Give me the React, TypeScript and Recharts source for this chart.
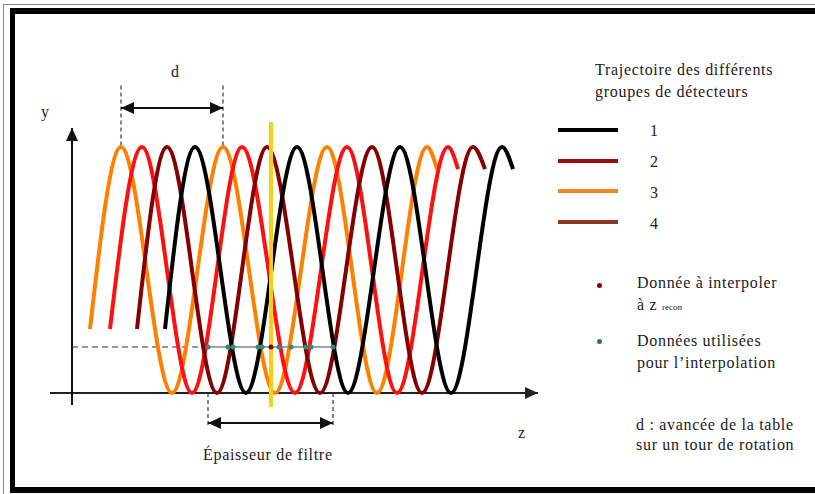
import React from 'react';
import { ComposedChart, Line, Scatter, XAxis, YAxis, ReferenceLine } from 'recharts';

// z = avance le long de l'axe, y = hauteur en % de l'amplitude (0 = creux, 100 = crête)
const trajY = [26, 100, 0, 100, 0, 100, 0, 100, 91];
const orangeZ = [18, 49, 100, 151, 203, 255, 305, 355, 365];
const redZ = [38, 70, 120, 170, 223, 275, 325, 376, 386];
const maroonZ = [65, 95, 145, 195, 248, 300, 350, 401, 413];
const blackZ = [93, 123, 174, 225, 276, 328, 379, 430, 441];

const interpLevel = 18.7;
const interpZ = [136, 156, 161, 186, 190, 207, 219, 234, 239, 261];
const reconZ = [199];
const filterStart = 136;
const filterEnd = 261;
const dStart = 49;
const dEnd = 151;

const groupLabels = ['1', '2', '3', '4'];
const groupColors = ['#000000', '#9a0c0c', '#f7861e', '#8b3a22'];

const build = (zs: number[]) => zs.map((z, i) => ({ z, y: trajY[i] }));

const serif = "'Liberation Serif', 'Times New Roman', serif";

const arrow = (both: boolean, color = '#111', w = 2, L = 13, W = 6) => (p: any) => {
  const { x1, y1, x2, y2 } = p;
  const a = Math.atan2(y2 - y1, x2 - x1);
  const head = (x: number, y: number, ang: number) => {
    const bx = x - L * Math.cos(ang);
    const by = y - L * Math.sin(ang);
    const nx = -Math.sin(ang) * W;
    const ny = Math.cos(ang) * W;
    return <polygon points={`${x},${y} ${bx + nx},${by + ny} ${bx - nx},${by - ny}`} fill={color} />;
  };
  return (
    <g>
      <line x1={x1} y1={y1} x2={x2} y2={y2} stroke={color} strokeWidth={w} />
      {head(x2, y2, a)}
      {both && head(x1, y1, a + Math.PI)}
    </g>
  );
};

const txt = (left: number, top: number, s: React.ReactNode, extra: React.CSSProperties = {}) => (
  <div style={{ position: 'absolute', left, top, fontFamily: serif, fontSize: 16, letterSpacing: 0.7, lineHeight: '18px', color: '#1a1a1a', whiteSpace: 'nowrap', ...extra }}>{s}</div>
);

const trajectory = (zs: number[], color: string) => (
  <Line data={build(zs)} dataKey="y" type="monotone" stroke={color} strokeWidth={4} dot={false} activeDot={false} isAnimationActive={false} />
);

export default function App() {
  return (
    <div style={{ position: 'relative', width: 815, height: 494, overflow: 'hidden', background: '#fff' }}>
      <style>{'body{margin:0}'}</style>
      <div style={{ position: 'absolute', left: 3, top: 4, width: 900, height: 600, border: '1px solid #888' }} />
      <div style={{ position: 'absolute', left: 10, top: 8, width: 900, height: 485, boxSizing: 'border-box', borderLeft: '5px solid #000', borderTop: '6px solid #000', borderBottom: '6px solid #000' }} />

      <div style={{ position: 'absolute', left: 0, top: 0 }}>
        <ComposedChart width={815} height={494} margin={{ top: 0, right: 0, bottom: 0, left: 0 }}>
          <XAxis type="number" dataKey="z" domain={[-72, 743]} hide allowDataOverflow />
          <YAxis type="number" dataKey="y" domain={[-41.06, 159.76]} hide allowDataOverflow />

          {/* axes */}
          <ReferenceLine segment={[{ x: -22, y: 0 }, { x: 466, y: 0 }]} shape={arrow(false, '#222', 2, 13, 6)} />
          <ReferenceLine segment={[{ x: 0, y: -4.9 }, { x: 0, y: 107.7 }]} shape={arrow(false, '#111', 2, 13, 6)} />

          {/* niveau d'interpolation */}
          <ReferenceLine segment={[{ x: 0, y: interpLevel }, { x: filterStart, y: interpLevel }]} stroke="#333" strokeWidth={1.2} strokeDasharray="6 4" />
          <ReferenceLine segment={[{ x: filterStart, y: interpLevel }, { x: filterEnd, y: interpLevel }]} stroke="#444" strokeWidth={1} />

          {/* cote d */}
          <ReferenceLine segment={[{ x: dStart, y: 125 }, { x: dStart, y: 100 }]} stroke="#333" strokeWidth={1.2} strokeDasharray="4 3" />
          <ReferenceLine segment={[{ x: dEnd, y: 125 }, { x: dEnd, y: 100 }]} stroke="#333" strokeWidth={1.2} strokeDasharray="4 3" />
          <ReferenceLine segment={[{ x: dStart, y: 115.9 }, { x: dEnd, y: 115.9 }]} shape={arrow(true)} />

          {/* épaisseur de filtre */}
          <ReferenceLine segment={[{ x: filterStart, y: 0 }, { x: filterStart, y: -13 }]} stroke="#333" strokeWidth={1.2} strokeDasharray="4 3" />
          <ReferenceLine segment={[{ x: filterEnd, y: 0 }, { x: filterEnd, y: -13 }]} stroke="#333" strokeWidth={1.2} strokeDasharray="4 3" />
          <ReferenceLine segment={[{ x: filterStart, y: -12.2 }, { x: filterEnd, y: -12.2 }]} shape={arrow(true)} />

          {trajectory(orangeZ, '#ff8000')}
          {trajectory(redZ, '#ff1010')}
          {trajectory(maroonZ, '#850000')}
          {trajectory(blackZ, '#000000')}

          {/* z recon */}
          <Line data={[{ z: reconZ[0], y: 110.2 }, { z: reconZ[0], y: -5.7 }]} dataKey="y" type="linear" stroke="#f5d10f" strokeWidth={4} dot={false} activeDot={false} isAnimationActive={false} />

          <Scatter data={interpZ.map((z) => ({ z, y: interpLevel }))} dataKey="y" fill="#2f8a7c" isAnimationActive={false}
            shape={(p: any) => <circle cx={p.cx} cy={p.cy} r={2.5} fill="#2f8a7c" />} />
          <Scatter data={reconZ.map((z) => ({ z, y: interpLevel }))} dataKey="y" fill="#8b0000" isAnimationActive={false}
            shape={(p: any) => <circle cx={p.cx} cy={p.cy} r={2.5} fill="#8b0000" />} />
        </ComposedChart>
      </div>

      {txt(171, 63, 'd')}
      {txt(41, 103, 'y')}
      {txt(518, 424, 'z')}
      {txt(203, 446, 'Épaisseur de filtre')}

      {txt(595, 61, 'Trajectoire des différents')}
      {txt(595, 83, 'groupes de détecteurs')}
      {groupLabels.map((g, i) => (
        <React.Fragment key={g}>
          <div style={{ position: 'absolute', left: 558, top: 128 + i * 30.5, width: 60, height: 4, background: groupColors[i] }} />
          {txt(650, 122 + i * 31, g)}
        </React.Fragment>
      ))}

      <div style={{ position: 'absolute', left: 597, top: 283, width: 5, height: 5, borderRadius: 3, background: '#8b0000' }} />
      {txt(637, 274, 'Donnée à interpoler')}
      {txt(637, 296, <span>à z <span style={{ fontSize: 9, letterSpacing: 0 }}>recon</span></span>)}
      <div style={{ position: 'absolute', left: 597, top: 339, width: 5, height: 5, borderRadius: 3, background: '#2f6e66' }} />
      {txt(637, 332, 'Données utilisées')}
      {txt(637, 354, 'pour l\u2019interpolation')}
      {txt(636, 416, 'd : avancée de la table')}
      {txt(636, 436, 'sur un tour de rotation')}
    </div>
  );
}
